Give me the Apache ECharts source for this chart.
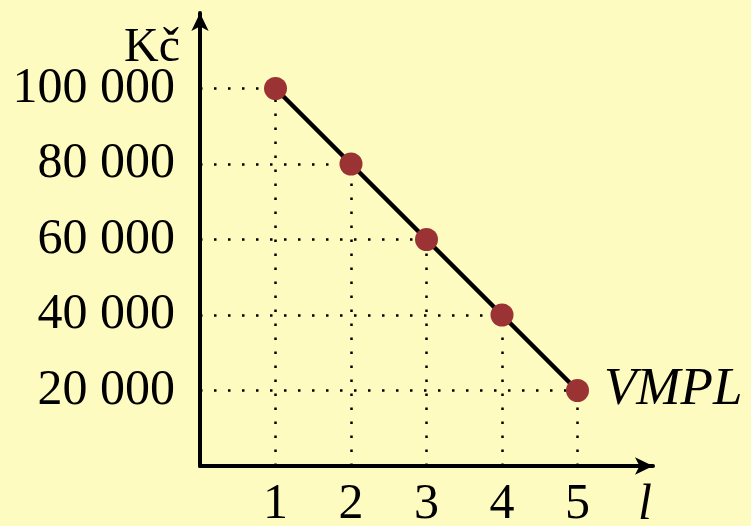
<!DOCTYPE html>
<html>
<head>
<meta charset="utf-8">
<script src="https://cdn.jsdelivr.net/npm/echarts@6/dist/echarts.min.js"></script>
<style>
  html, body { margin: 0; padding: 0; background: #fefbc0; }
  #chart { width: 751px; height: 526px; }
</style>
</head>
<body>
<div id="chart"></div>
<script>
// labour units and value of marginal product
const workers = [1, 2, 3, 4, 5]
const vmpl = [100000, 80000, 60000, 40000, 20000]
const xTicks = [1, 2, 3, 4, 5]
const yTicks = [20000, 40000, 60000, 80000, 100000]

const serif = '"Liberation Serif", "DejaVu Serif", serif'
const chart = echarts.init(document.getElementById('chart'))

// tečkované vodící čáry k osám
const guides = []
workers.forEach((x, i) => {
  guides.push([{ coord: [0, vmpl[i]] }, { coord: [x, vmpl[i]] }])
  guides.push([{ coord: [x, 0] }, { coord: [x, vmpl[i]] }])
})

const points = workers.map((x, i) => {
  const item = { value: [x, vmpl[i]] }
  if (i === workers.length - 1) {
    item.label = {
      show: true,
      position: 'right',
      distance: 15,
      formatter: 'VMPL',
      color: '#000',
      fontFamily: serif,
      fontStyle: 'italic',
      fontSize: 53
    }
  }
  return item
})

function spaced(v) {
  return String(v).replace(/\B(?=(\d{3})+(?!\d))/g, ' ')
}

chart.setOption({
  animation: false,
  backgroundColor: '#fefbc0',
  grid: { left: 200, top: 13, width: 453, height: 453, outerBoundsMode: 'none', containLabel: false },
  xAxis: {
    type: 'value',
    min: 0,
    max: 6,
    interval: 1,
    name: 'l',
    nameLocation: 'end',
    nameGap: -8,
    nameMoveOverlap: false,
    nameTextStyle: {
      fontFamily: serif,
      fontStyle: 'italic',
      fontSize: 50,
      color: '#000',
      align: 'center',
      verticalAlign: 'top',
      padding: [15, 0, 0, 0]
    },
    axisLine: {
      lineStyle: { color: '#000', width: 4 },
      symbol: ['none', 'arrow'],
      symbolSize: [13, 18]
    },
    axisTick: { show: false },
    splitLine: { show: false },
    axisLabel: {
      margin: 14,
      fontFamily: serif,
      fontSize: 50,
      color: '#000',
      formatter: v => (xTicks.includes(v) ? String(v) : '')
    }
  },
  yAxis: {
    type: 'value',
    min: 0,
    max: 120000,
    interval: 20000,
    name: 'Kč',
    nameLocation: 'end',
    nameGap: -59,
    nameMoveOverlap: false,
    nameTextStyle: {
      fontFamily: serif,
      fontSize: 48,
      color: '#000',
      align: 'right',
      verticalAlign: 'bottom',
      padding: [0, 20, 0, 0]
    },
    axisLine: {
      lineStyle: { color: '#000', width: 4 },
      symbol: ['none', 'arrow'],
      symbolSize: [13, 18]
    },
    axisTick: { show: false },
    splitLine: { show: false },
    axisLabel: {
      margin: 25,
      fontFamily: serif,
      fontSize: 50,
      color: '#000',
      formatter: v => (yTicks.includes(v) ? spaced(v) : '')
    }
  },
  series: [
    {
      type: 'line',
      data: points,
      symbol: 'circle',
      symbolSize: 23,
      z: 5,
      lineStyle: { color: '#000', width: 4.5 },
      itemStyle: { color: '#9b3334' },
      markLine: {
        silent: true,
        symbol: 'none',
        label: { show: false },
        lineStyle: { color: '#000', width: 2.5, type: [2.5, 11.5] },
        data: guides
      }
    }
  ]
})
</script>
</body>
</html>
